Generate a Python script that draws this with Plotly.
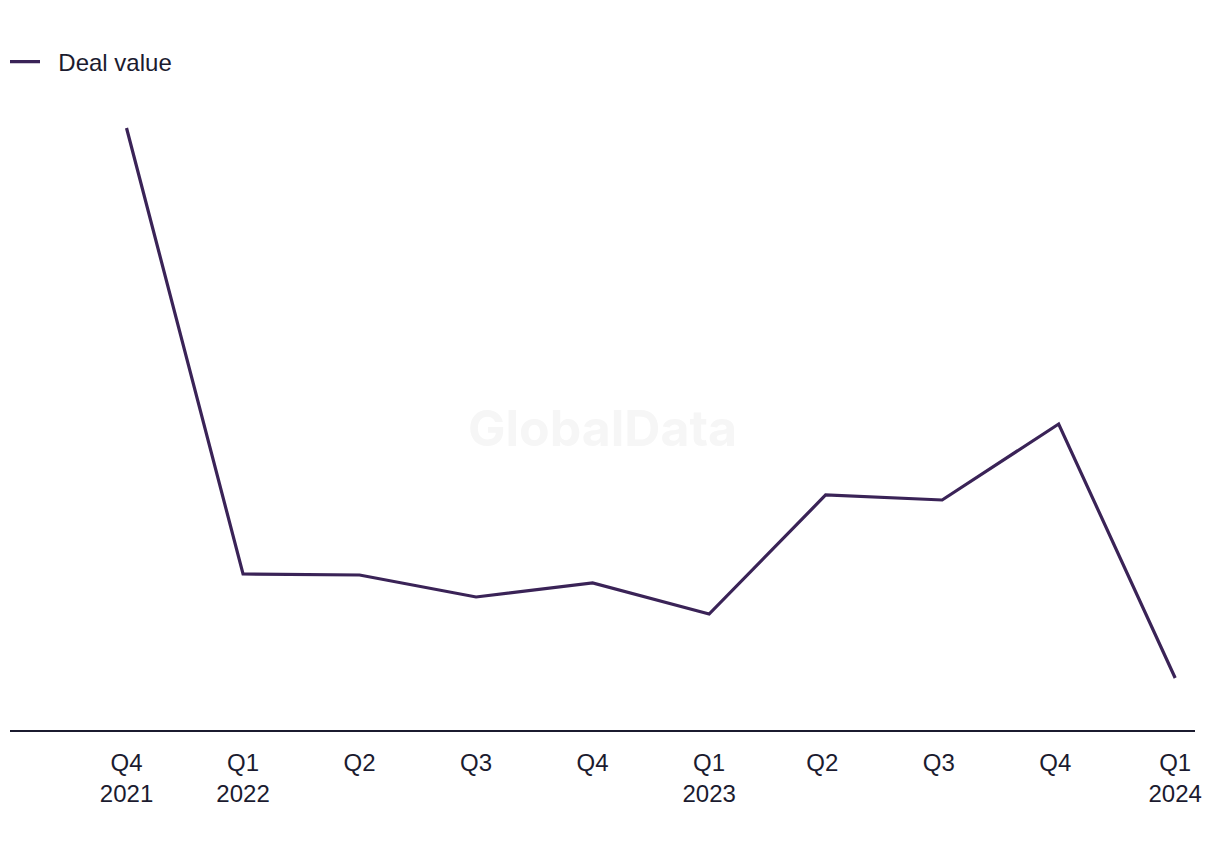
import plotly.graph_objects as go

quarters = ["Q4<br>2021", "Q1<br>2022", "Q2", "Q3", "Q4", "Q1<br>2023", "Q2 ", "Q3 ", "Q4 ", "Q1<br>2024"]
deal_value = [602, 156, 155, 133, 147, 116, 235, 230, 306, 52]
series_name = "\u00a0\u00a0Deal value"

fig = go.Figure()
fig.add_trace(go.Scatter(
    x=list(range(len(quarters))), y=deal_value, mode="lines", name=series_name,
    line=dict(color="#3a2357", width=3.2),
))

fig.add_annotation(
    text="GlobalData", x=0.5, y=0.479, xref="paper", yref="paper",
    showarrow=False, font=dict(family="Inter, Liberation Sans, sans-serif", size=50, color="#f6f6f6", weight="bold"),
)

fig.update_layout(
    width=1220, height=850,
    paper_bgcolor="white", plot_bgcolor="white",
    margin=dict(l=10, r=25, t=100, b=120),
    font=dict(family="Liberation Sans, Arial, sans-serif", size=24, color="#1b1b2f"),
    showlegend=True,
    legend=dict(x=5 / 1220, y=1 - 62 / 850, xref="container", yref="container", yanchor="middle", xanchor="left",
                orientation="h", itemwidth=30, font=dict(size=24, color="#1b1b2f")),
    xaxis=dict(
        tickmode="array", tickvals=list(range(len(quarters))), ticktext=quarters,
        range=[-1.0, 9.17], showgrid=False, zeroline=False,
        showline=True, linecolor="#1b1b2f", linewidth=2, ticks="",
        ticklabelstandoff=10,
        tickfont=dict(size=24, color="#1b1b2f"),
    ),
    yaxis=dict(range=[0, 630], visible=False, showgrid=False, zeroline=False),
)

fig.write_html("out.html")
